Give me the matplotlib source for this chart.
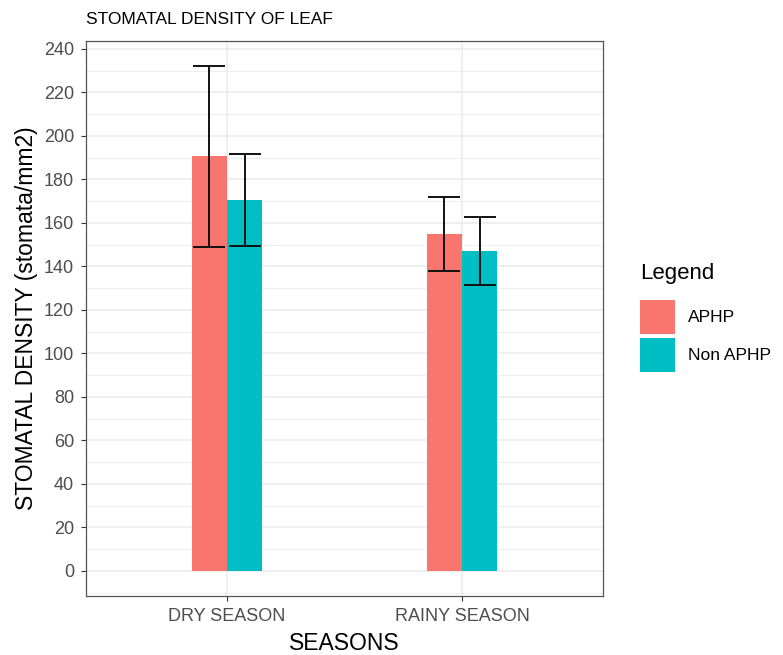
import numpy as np
import matplotlib.pyplot as plt
from matplotlib.patches import Patch
from matplotlib.ticker import MultipleLocator

plt.rcParams['font.family'] = ['Liberation Sans', 'DejaVu Sans']

seasons = ['DRY SEASON', 'RAINY SEASON']
groups = ['APHP', 'Non APHP']
colors = ['#F8766D', '#00BFC4']

# mean stomatal density and standard deviation per season
aphp_mean = [190.5, 155.0]
aphp_sd = [41.5, 17.0]
non_aphp_mean = [170.5, 147.0]
non_aphp_sd = [21.0, 15.5]

means = [aphp_mean, non_aphp_mean]
sds = [aphp_sd, non_aphp_sd]

fig = plt.figure(figsize=(7.83, 6.55), dpi=100)
ax = fig.add_axes([86 / 783, 59 / 655, 517 / 783, 555 / 655])

x = np.arange(1, len(seasons) + 1)
width = 0.15
offsets = [-width / 2, width / 2]

for i, g in enumerate(groups):
    ax.bar(x + offsets[i], means[i], width=width, color=colors[i], zorder=3)
    ax.errorbar(x + offsets[i], means[i], yerr=sds[i], fmt='none', ecolor='#111111',
                elinewidth=1.4, capsize=11.5, capthick=1.4, zorder=4)

ax.set_xlim(0.4, 2.6)
ax.set_ylim(-11.6, 243.6)
ax.set_xticks(x)
ax.set_xticklabels(seasons)
ax.yaxis.set_major_locator(MultipleLocator(20))
ax.yaxis.set_minor_locator(MultipleLocator(10))
ax.tick_params(axis='y', which='minor', length=0)
ax.tick_params(which='major', length=3.5, width=0.8, color='#333333',
               labelsize=13, labelcolor='#4D4D4D', pad=5)

ax.grid(True, which='major', color='#EBEBEB', linewidth=1.1, zorder=0)
ax.grid(True, which='minor', axis='y', color='#EBEBEB', linewidth=0.6, zorder=0)
ax.set_axisbelow(True)
for s in ax.spines.values():
    s.set_color('#555555')
    s.set_linewidth(0.9)

ax.set_xlabel('SEASONS', fontsize=16.5, labelpad=5)
ax.set_ylabel('STOMATAL DENSITY (stomata/mm2)', fontsize=16.5, labelpad=4)
ax.set_title('STOMATAL DENSITY OF LEAF', fontsize=12.5, loc='left', pad=12)

# legend: title as separate text so the gap above the keys is wider
fig.text(640 / 783, 1 - 273 / 655, 'Legend', fontsize=16, ha='left', va='center')
handles = [Patch(facecolor=c, edgecolor='none') for c in colors]
fig.legend(handles, groups, loc='upper left',
           bbox_to_anchor=(640 / 783, (655 - 300) / 655), frameon=False,
           fontsize=12.5, handlelength=2.0, handleheight=2.65, labelspacing=0.2,
           handletextpad=0.75, borderpad=0, borderaxespad=0)

fig.savefig('out.png', dpi=100)
